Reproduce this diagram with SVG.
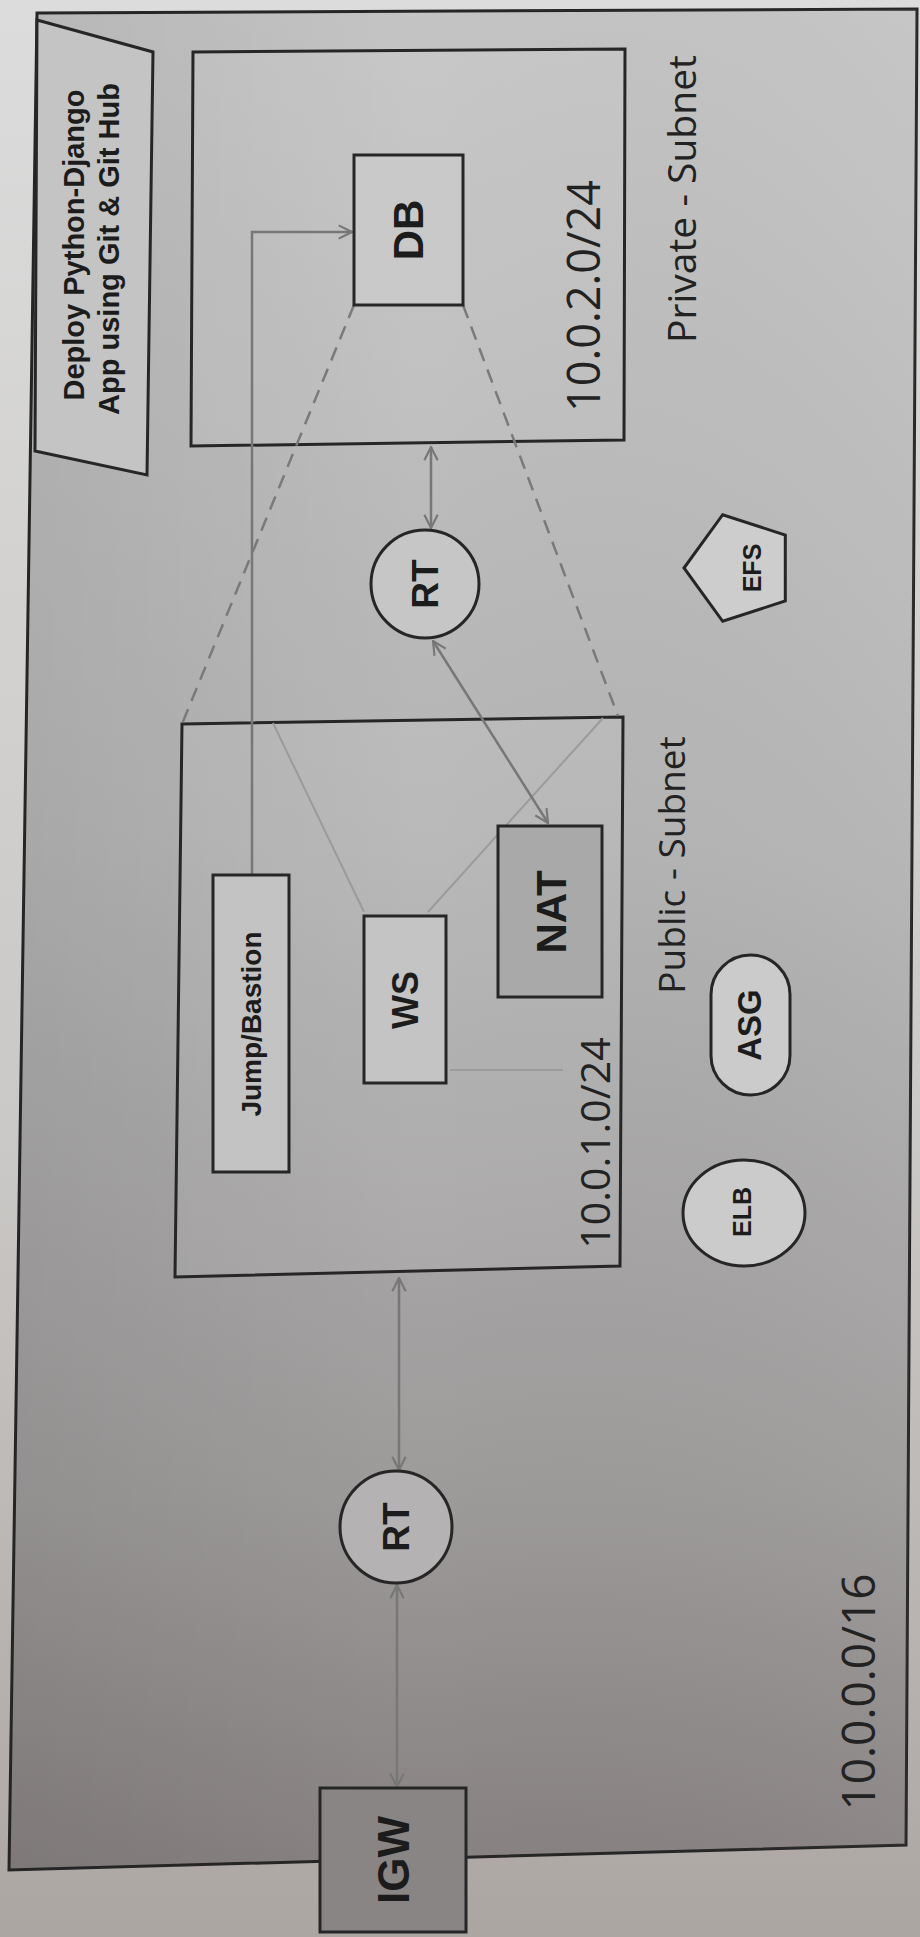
<svg xmlns="http://www.w3.org/2000/svg" width="920" height="1937" viewBox="0 0 920 1937">
<defs>
<linearGradient id="bg" x1="0" y1="0" x2="0" y2="1">
<stop offset="0" stop-color="#dcdcdc"/>
<stop offset="0.6" stop-color="#cac8c6"/>
<stop offset="1" stop-color="#aca6a3"/>
</linearGradient>
<linearGradient id="vpcfill" x1="0" y1="0" x2="0" y2="1">
<stop offset="0" stop-color="#c4c4c4"/>
<stop offset="0.45" stop-color="#b4b4b4"/>
<stop offset="0.8" stop-color="#9d9a9a"/>
<stop offset="1" stop-color="#878181"/>
</linearGradient>
<linearGradient id="side" x1="0" y1="0" x2="1" y2="0">
<stop offset="0" stop-color="#000" stop-opacity="0.07"/>
<stop offset="0.45" stop-color="#000" stop-opacity="0"/>
<stop offset="1" stop-color="#fff" stop-opacity="0.04"/>
</linearGradient>
<marker id="arr" viewBox="0 0 12 12" refX="11" refY="6" markerWidth="16" markerHeight="16" markerUnits="userSpaceOnUse" orient="auto-start-reverse">
<path d="M1,1 L11,6 L1,11" fill="none" stroke="#777" stroke-width="1.6"/>
</marker>
<style>
.box{stroke:#262626;stroke-width:3}
.sub{fill:#fff;fill-opacity:0.07;stroke:#262626;stroke-width:3}
.lbl{font-family:"Liberation Sans",Arial,sans-serif;font-weight:bold;fill:#1c1c1c;text-anchor:middle;dominant-baseline:central}
.hand{font-family:"Open Sans","DejaVu Sans",sans-serif;font-weight:normal;fill:#222;text-anchor:middle;dominant-baseline:central}
.con{fill:none;stroke:#777;stroke-width:2.5}
.dash{fill:none;stroke:#7a7a7a;stroke-width:2.5;stroke-dasharray:14 9}
.faint{fill:none;stroke:#9b9b9b;stroke-width:2}
</style>
</defs>
<rect x="0" y="0" width="920" height="1937" fill="url(#bg)"/>
<g id="vpc">
<polygon points="37,13 917,9 906,1845 9,1870" fill="url(#vpcfill)" class="box"/>
<polygon points="37,13 917,9 906,1845 9,1870" fill="url(#side)"/>
<text class="hand" font-size="46" transform="translate(857,1692) rotate(-90)">10.0.0.0/16</text>
</g>
<g id="title">
<polygon points="37,20 153,52 147,475 35,451" fill="#c4c4c4" class="box"/>
<text class="lbl" font-size="29" transform="translate(74,245) rotate(-90)">Deploy Python-Django</text>
<text class="lbl" font-size="29" transform="translate(109,249) rotate(-90)">App using Git &amp; Git Hub</text>
</g>
<g id="private-subnet">
<polygon points="193,52 625,49 624,440 191,446" class="sub"/>
<text class="hand" font-size="45" transform="translate(582,296) rotate(-90)">10.0.2.0/24</text>
<text class="hand" font-size="39" transform="translate(680,199) rotate(-90)">Private - Subnet</text>
</g>
<g id="public-subnet">
<polygon points="182,724 623,717 620,1266 175,1277" class="sub"/>
<text class="hand" font-size="41" transform="translate(594,1143) rotate(-90)">10.0.1.0/24</text>
<text class="hand" font-size="37" transform="translate(670,865) rotate(-90)">Public - Subnet</text>
</g>
<g id="connectors">
<path class="con" d="M252,875 V232 H352" marker-end="url(#arr)"/>
<path class="dash" d="M354,305 L182,724"/>
<path class="dash" d="M463,305 L618,716"/>
<path class="faint" d="M273,723 L364,912"/>
<path class="faint" d="M603,718 L428,912"/>
<path class="faint" d="M450,1070 H563"/>
<path class="con" d="M431,447 V528" marker-start="url(#arr)" marker-end="url(#arr)"/>
<path class="con" d="M433,641 L548,823" marker-start="url(#arr)" marker-end="url(#arr)"/>
<path class="con" d="M399,1278 V1470" marker-start="url(#arr)" marker-end="url(#arr)"/>
<path class="con" d="M397,1585 V1787" marker-start="url(#arr)" marker-end="url(#arr)"/>
</g>
<g id="db">
<rect x="354" y="155" width="109" height="150" fill="#c9c9c9" class="box"/>
<text class="lbl" font-size="42" transform="translate(408,230) rotate(-90)">DB</text>
</g>
<g id="rt-private">
<circle cx="425" cy="584" r="54" fill="#c6c6c6" class="box"/>
<text class="lbl" font-size="37" transform="translate(425,584) rotate(-90)">RT</text>
</g>
<g id="efs">
<polygon points="684,568 722.7,514.7 785.3,535.1 785.3,600.9 722.7,621.3" fill="#cdcdcd" class="box"/>
<text class="lbl" font-size="25" transform="translate(752,568) rotate(-90)">EFS</text>
</g>
<g id="jump">
<rect x="213" y="875" width="76" height="297" fill="#c3c3c3" class="box"/>
<text class="lbl" font-size="28" transform="translate(251,1024) rotate(-90)">Jump/Bastion</text>
</g>
<g id="ws">
<rect x="364" y="916" width="82" height="167" fill="#c4c4c4" class="box"/>
<text class="lbl" font-size="36" transform="translate(405,1000) rotate(-90)">WS</text>
</g>
<g id="nat">
<rect x="498" y="826" width="104" height="171" fill="#a9a9a9" class="box"/>
<text class="lbl" font-size="42" transform="translate(551,912) rotate(-90)">NAT</text>
</g>
<g id="asg">
<rect x="711" y="955" width="79" height="140" rx="39.5" ry="39.5" fill="#cbcbcb" class="box"/>
<text class="lbl" font-size="33" transform="translate(749,1025) rotate(-90)">ASG</text>
</g>
<g id="elb">
<ellipse cx="744" cy="1213" rx="61" ry="53" fill="#cbcbcb" class="box"/>
<text class="lbl" font-size="25" transform="translate(742,1212) rotate(-90)">ELB</text>
</g>
<g id="rt-public">
<circle cx="396" cy="1527" r="56" fill="#b4b2b2" class="box"/>
<text class="lbl" font-size="37" transform="translate(396,1527) rotate(-90)">RT</text>
</g>
<g id="igw">
<rect x="320" y="1788" width="146" height="144" fill="#8a8585" class="box"/>
<text class="lbl" font-size="44" transform="translate(393,1860) rotate(-90)">IGW</text>
</g>
</svg>
